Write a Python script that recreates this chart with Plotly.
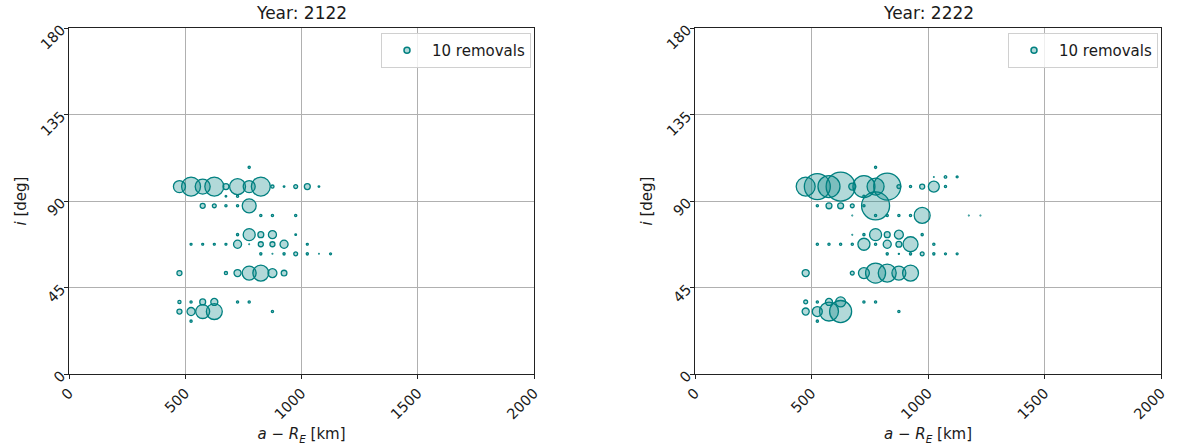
import plotly.graph_objects as go
from plotly.subplots import make_subplots

# Removal counts binned by semi-major axis altitude (km) and inclination (deg)
a_2122 = [775,
          475, 525, 575, 625, 675, 725, 775, 825, 875, 925, 975, 1025, 1075,
          675, 725,
          575, 625, 675, 725, 775,
          825, 875, 975,
          725, 775, 825, 875, 975,
          525, 575, 625, 675, 725, 775, 825, 875, 925, 1025,
          825, 875, 925, 975, 1025, 1075, 1125,
          475, 675, 725, 775, 825, 875, 925,
          475, 525, 575, 625, 725, 775,
          475, 525, 575, 625, 875,
          525]
inc_2122 = [107.5,
            97.5, 97.5, 97.5, 97.5, 97.5, 97.5, 97.5, 97.5, 97.5, 97.5, 97.5, 97.5, 97.5,
            92.5, 92.5,
            87.5, 87.5, 87.5, 87.5, 87.5,
            82.5, 82.5, 82.5,
            72.5, 72.5, 72.5, 72.5, 72.5,
            67.5, 67.5, 67.5, 67.5, 67.5, 67.5, 67.5, 67.5, 67.5, 67.5,
            62.5, 62.5, 62.5, 62.5, 62.5, 62.5, 62.5,
            52.5, 52.5, 52.5, 52.5, 52.5, 52.5, 52.5,
            37.5, 37.5, 37.5, 37.5, 37.5, 37.5,
            32.5, 32.5, 32.5, 32.5, 32.5,
            27.5]
n_2122 = [2,
          58, 144, 90, 144, 14, 102, 58, 144, 4, 1, 6, 14, 1,
          1, 2,
          10, 6, 2, 2, 78,
          2, 2, 2,
          2, 58, 14, 26, 1,
          1.5, 1.5, 1.5, 1.5, 26, 0.2, 10, 10, 26, 1.5,
          2, 0.2, 2, 6, 2, 0.2, 1.5,
          10, 4, 20, 78, 102, 32, 13,
          4, 2, 14, 20, 2, 2,
          10, 26, 78, 102, 2,
          2]

a_2222 = [775,
          1025, 1075, 1125,
          475, 525, 575, 625, 675, 725, 775, 825, 875, 925, 975, 1025, 1075,
          725,
          525, 575, 625, 675, 725, 775,
          675, 775, 825, 875, 925, 975, 1175, 1225,
          675, 725, 775, 825, 875, 975,
          525, 575, 625, 675, 725, 775, 825, 875, 925, 1025,
          825, 875, 925, 975, 1025, 1075, 1125,
          475, 675, 725, 775, 825, 875, 925,
          475, 525, 575, 625, 725, 775,
          475, 525, 575, 625, 875,
          525]
inc_2222 = [107.5,
            102.5, 102.5, 102.5,
            97.5, 97.5, 97.5, 97.5, 97.5, 97.5, 97.5, 97.5, 97.5, 97.5, 97.5, 97.5, 97.5,
            92.5,
            87.5, 87.5, 87.5, 87.5, 87.5, 87.5,
            82.5, 82.5, 82.5, 82.5, 82.5, 82.5, 82.5, 82.5,
            72.5, 72.5, 72.5, 72.5, 72.5, 72.5,
            67.5, 67.5, 67.5, 67.5, 67.5, 67.5, 67.5, 67.5, 67.5, 67.5,
            62.5, 62.5, 62.5, 62.5, 62.5, 62.5, 62.5,
            52.5, 52.5, 52.5, 52.5, 52.5, 52.5, 52.5,
            37.5, 37.5, 37.5, 37.5, 37.5, 37.5,
            32.5, 32.5, 32.5, 32.5, 32.5,
            27.5]
n_2222 = [2,
          0.2, 2.5, 1.5,
          144, 270, 194, 336, 20, 194, 116, 292, 6, 2, 10, 48, 2,
          2,
          2, 14, 14, 6, 2, 314,
          0.2, 2, 2, 2, 2, 102, 0.2, 0.2,
          0.2, 2, 58, 14, 32, 2,
          2, 2, 2, 2, 58, 2, 26, 14, 90, 2,
          2, 0.5, 2, 6, 2, 1.5, 1.5,
          20, 6, 48, 160, 130, 78, 102,
          6, 2, 20, 40, 2, 2,
          20, 40, 144, 194, 2,
          2]

years = ["2122", "2222"]
x_ticks = [0, 500, 1000, 1500, 2000]
y_ticks = [0, 45, 90, 135, 180]

# Reference bubble used in the legend
REF_COUNT = 10
REF_DIAM = 5
SIZEREF = 2.0 * REF_COUNT / REF_DIAM ** 2

TEAL = "#008080"
FILL = "rgba(0,128,128,0.3)"
FONT = "DejaVu Sans"
TXT = "#1a1a1a"

W, H = 1182, 446
dom_x = [[69 / W, 534 / W], [695 / W, 1161 / W]]
dom_y = [1 - 374 / H, 1 - 28 / H]

fig = make_subplots(rows=1, cols=2)

datasets = [(a_2122, inc_2122, n_2122), (a_2222, inc_2222, n_2222)]
for k, (a_vals, i_vals, n_vals) in enumerate(datasets):
    col = k + 1
    fig.add_trace(go.Scatter(
        x=a_vals, y=i_vals, mode="markers",
        marker=dict(size=n_vals, sizemode="area", sizeref=SIZEREF, opacity=1,
                    color=FILL, line=dict(color=TEAL, width=1.3)),
        showlegend=False, hoverinfo="skip"), row=1, col=col)
    fig.add_trace(go.Scatter(
        x=[None], y=[None], mode="markers",
        name=f"{REF_COUNT} removals",
        marker=dict(size=REF_DIAM + 1, opacity=1, color=FILL,
                    line=dict(color=TEAL, width=1.5)),
        legend="legend" if k == 0 else "legend2"), row=1, col=col)

axis_common = dict(
    showgrid=True, gridcolor="#b0b0b0", gridwidth=1,
    showline=True, linecolor="#222222", linewidth=1, mirror=True,
    ticks="outside", ticklen=4, tickcolor="#222222", tickwidth=1,
    tickfont=dict(family=FONT, size=14.5, color=TXT),
    zeroline=False, tickangle=-45, automargin=False,
)

for k in range(2):
    xa = "xaxis" if k == 0 else "xaxis2"
    ya = "yaxis" if k == 0 else "yaxis2"
    fig.layout[xa].update(
        domain=dom_x[k], range=[0, 2000], tickvals=x_ticks,
        title=dict(text="<i>a</i> − <i>R</i><sub><i>E</i></sub> [km]",
                   font=dict(family=FONT, size=15, color=TXT), standoff=7),
        **axis_common)
    fig.layout[ya].update(
        domain=dom_y, range=[0, 180], tickvals=y_ticks,
        title=dict(text="<i>i</i> [deg]",
                   font=dict(family=FONT, size=15, color=TXT), standoff=7),
        **axis_common)
    fig.add_annotation(
        text=f"Year: {years[k]}", xref="paper", yref="paper",
        x=(dom_x[k][0] + dom_x[k][1]) / 2, y=1 - 13 / H,
        xanchor="center", yanchor="middle", showarrow=False,
        font=dict(family=FONT, size=17, color=TXT))

legend_style = dict(
    xanchor="right", yanchor="top", y=1 - 33 / H,
    bgcolor="rgba(255,255,255,0.8)", bordercolor="#d0d0d0", borderwidth=1,
    font=dict(family=FONT, size=15, color=TXT),
    itemwidth=40, tracegroupgap=0,
)
fig.update_layout(
    width=W, height=H,
    margin=dict(l=0, r=0, t=0, b=0),
    paper_bgcolor="white", plot_bgcolor="white",
    legend=dict(x=531 / W, **legend_style),
    legend2=dict(x=1158 / W, **legend_style),
)

fig.write_html("out.html")
